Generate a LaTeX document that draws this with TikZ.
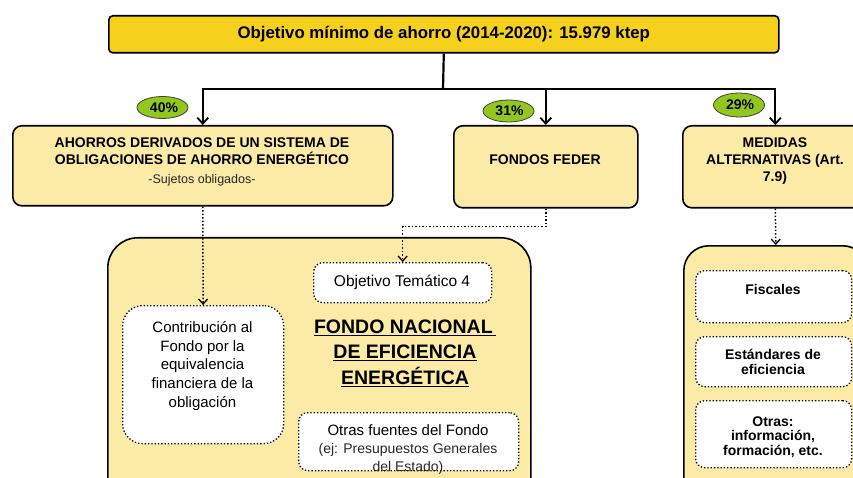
\documentclass[tikz,border=0pt]{standalone}
\usepackage{fontspec}
\setmainfont{Liberation Sans}
\usetikzlibrary{arrows.meta,shapes.geometric}
\definecolor{gold}{HTML}{F5D11E}
\definecolor{pale}{HTML}{FBEBA6}
\definecolor{lime}{HTML}{92C81E}
\tikzset{
  mainbox/.style={draw=black, line width=1.6pt, fill=pale, rounded corners=9pt, anchor=north west, inner sep=0pt},
  innerbox/.style={draw=black, line width=1.3pt, dotted, fill=white, rounded corners=9pt, anchor=north west, inner sep=0pt},
  pct/.style={ellipse, draw=black!75, line width=0.8pt, fill=lime, minimum width=51pt, minimum height=22pt, inner sep=0pt, font=\bfseries\fontsize{14}{16}\selectfont},
  solidarr/.style={line width=2.2pt, -{Straight Barb[length=6pt,width=11pt,line width=1.8pt]}},
  dotarr/.style={line width=1.5pt, dotted, -{Straight Barb[length=5pt,width=9pt,line width=1.3pt,sep=0pt]}},
}
\begin{document}
\begin{tikzpicture}[x=1pt,y=-1pt]
\useasboundingbox (0,0) rectangle (853,478);
\begin{scope}
\clip (0,0) rectangle (853,478);
% top box
\node[draw=black, line width=1.6pt, fill=gold, rounded corners=4pt, anchor=north west, minimum width=670pt, minimum height=37pt, inner sep=0pt,
  font=\bfseries\fontsize{16.8}{19}\selectfont] (top) at (108,15) {Objetivo mínimo de ahorro (2014-2020): 15.979 ktep};
% level 2 boxes
\node[mainbox, minimum width=380pt, minimum height=80pt] (b1) at (12,125) {};
\node[align=center, font=\bfseries\fontsize{14}{17.5}\selectfont] at (202,151) {AHORROS DERIVADOS DE UN SISTEMA DE\\OBLIGACIONES DE AHORRO ENERGÉTICO};
\node[font=\fontsize{12.5}{14}\selectfont, text=black!85] at (202,180) {-Sujetos obligados-};
\node[mainbox, minimum width=184pt, minimum height=82pt] (b2) at (453,125) {};
\node[font=\bfseries\fontsize{14}{17}\selectfont] at (545,160) {FONDOS FEDER};
\node[mainbox, minimum width=185pt, minimum height=82pt] (b3) at (682,125) {};
\node[align=center, font=\bfseries\fontsize{14}{17}\selectfont] at (775,161) {MEDIDAS\\ALTERNATIVAS (Art.\\7.9)};
% connectors
\coordinate (j) at (443,89);
\draw[line width=2.2pt] (top.south) -- (j);
\draw[solidarr] (j) -| (b1.north);
\draw[solidarr] (j) -| (b2.north);
\draw[solidarr] (j) -| (b3.north);
% percentages
\node[pct] (e1) at (162.5,107.5) {\hspace*{3pt}40\%};
\node[pct] (e2) at (508.5,111) {\hspace*{2pt}31\%};
\node[pct, minimum height=24pt] (e3) at (739,105) {\hspace*{2pt}29\%};
% big left box
\node[mainbox, rounded corners=30pt, minimum width=423pt, minimum height=290pt] (fund) at (107,237) {};
\node[innerbox, minimum width=178pt, minimum height=40pt] (obj) at (313,262) {};
\node[font=\fontsize{15.5}{17}\selectfont] at (402,282) {Objetivo Temático 4};
\node[innerbox, rounded corners=20pt, minimum width=161pt, minimum height=138pt] (contr) at (122,305) {};
\node[align=center, font=\fontsize{15}{18.6}\selectfont] at (202.5,366) {Contribución al\\Fondo por la\\equivalencia\\financiera de la\\obligación};
\node[align=center, font=\bfseries\fontsize{19.5}{25.5}\selectfont] (fnee) at (405,353) {\underline{FONDO NACIONAL\,}\\\underline{DE EFICIENCIA}\\\underline{ENERGÉTICA}};
\node[innerbox, minimum width=220pt, minimum height=58pt] (otras) at (298,412) {};
\node[font=\fontsize{15}{18}\selectfont] at (408,430) {Otras fuentes del Fondo};
\node[align=center, font=\fontsize{14}{18}\selectfont, text=black!85] at (408,459) {(ej: Presupuestos Generales\\del Estado)};
% big right box
\node[mainbox, rounded corners=25pt, minimum width=184pt, minimum height=280pt] (alt) at (683,245) {};
\node[innerbox, minimum width=156pt, minimum height=52pt] (fis) at (695,270) {};
\node[font=\bfseries\fontsize{14}{15}\selectfont] at (773,289) {Fiscales};
\node[innerbox, minimum width=156pt, minimum height=50pt] (est) at (695,336) {};
\node[align=center, font=\bfseries\fontsize{14}{15}\selectfont] at (773,362) {Estándares de\\eficiencia};
\node[innerbox, minimum width=156pt, minimum height=67pt] (otr) at (695,400) {};
\node[align=center, font=\bfseries\fontsize{14}{14.8}\selectfont] at (773,437) {Otras:\\información,\\formación, etc.};
% dotted connectors
\draw[dotarr] (b1.south) -- (contr.north);
\draw[dotarr] (b2.south) -- ++(0,18) -| (obj.north);
\draw[dotarr] (b3.south) -- (alt.north);
\end{scope}
\end{tikzpicture}
\end{document}
